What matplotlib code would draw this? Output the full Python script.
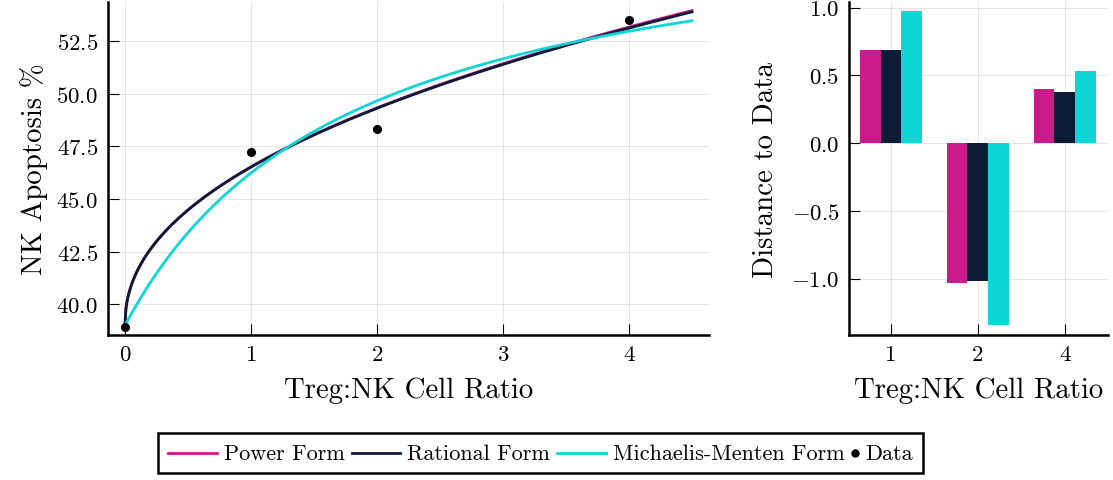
import numpy as np
import matplotlib
matplotlib.use("Agg")
import matplotlib.pyplot as plt
from matplotlib.lines import Line2D
from matplotlib.offsetbox import AnchoredOffsetbox, DrawingArea, HPacker, TextArea

plt.rcParams["font.family"] = ["cmr10", "DejaVu Serif"]
plt.rcParams["mathtext.fontset"] = "cm"
plt.rcParams["axes.formatter.use_mathtext"] = True

# measured apoptosis at each Treg:NK ratio
ratio = [0, 1, 2, 4]
apoptosis = [38.95, 47.22, 48.32, 53.50]

# fitted parameters for the three model forms
power_params = (38.98, 7.55, 0.455)            # a + b * x**c
rational_params = (39.0, 7.985, 0.01, 0.4607)  # (a + b x**p) / (1 + d x**p)
mm_params = (39.0, 20.24, 1.796)               # a + vmax * x / (km + x)

# residuals (data minus model) at the non-zero ratios
bar_ratios = ["1", "2", "4"]
power_dist = [0.69, -1.03, 0.40]
rational_dist = [0.69, -1.015, 0.38]
mm_dist = [0.975, -1.345, 0.53]

series_names = ["Power Form", "Rational Form", "Michaelis-Menten Form"]
colors = ["#CB1A8A", "#0C1C36", "#0CD6D6"]


def power_form(x, a, b, c):
    return a + b * x ** c


def rational_form(x, a, b, d, p):
    return (a + b * x ** p) / (1 + d * x ** p)


def mm_form(x, a, vmax, km):
    return a + vmax * x / (km + x)


xs = np.linspace(0, 4.5, 600)
label_size = 20.8

fig = plt.figure(figsize=(11.13, 4.81), dpi=100)
ax1 = fig.add_axes([0.097, 0.3015, 0.540, 0.692])
ax2 = fig.add_axes([0.763, 0.3015, 0.2325, 0.692])

for ax in (ax1, ax2):
    for side in ("top", "right"):
        ax.spines[side].set_visible(False)
    for side in ("left", "bottom"):
        ax.spines[side].set_linewidth(1.8)
    ax.grid(True, color="black", alpha=0.1, linewidth=0.8)
    ax.set_axisbelow(True)
    ax.tick_params(direction="in", length=8, width=0.8, labelsize=16.5, pad=7)

ax1.plot(xs, power_form(xs, *power_params), color=colors[0], lw=2)
ax1.plot(xs, rational_form(xs, *rational_params), color=colors[1], lw=2)
ax1.plot(xs, mm_form(xs, *mm_params), color=colors[2], lw=2)
ax1.plot(ratio, apoptosis, "o", color="black", ms=5.5, zorder=5)

ax1.set_xlim(-0.135, 4.635)
ax1.set_ylim(38.55, 54.35)
ax1.set_xticks([0, 1, 2, 3, 4])
ax1.set_yticks([40.0, 42.5, 45.0, 47.5, 50.0, 52.5])
ax1.set_xlabel("Treg:NK Cell Ratio", fontsize=label_size, labelpad=9)
ax1.set_ylabel("NK Apoptosis %", fontsize=label_size, labelpad=6)

pos = np.arange(len(bar_ratios)) + 0.5
width = 0.238
for k, vals in enumerate([power_dist, rational_dist, mm_dist]):
    ax2.bar(pos + (k - 1) * width, vals, width=width, color=colors[k], linewidth=0)

ax2.set_xlim(0.02, 3.0)
ax2.set_ylim(-1.415, 1.04)
ax2.set_xticks(pos)
ax2.set_xticklabels(bar_ratios)
ax2.set_yticks([-1.0, -0.5, 0.0, 0.5, 1.0])
ax2.set_xlabel("Treg:NK Cell Ratio", fontsize=label_size, labelpad=9)
ax2.set_ylabel("Distance to Data", fontsize=label_size, labelpad=9)

# horizontal legend below both panels
items = []
for name, c in zip(series_names, colors):
    da = DrawingArea(35, 12, 0, 0)
    da.add_artist(Line2D([0, 35], [6, 6], color=c, lw=2))
    items += [da, TextArea(name, textprops=dict(size=16))]
dot = DrawingArea(5, 12, 0, 0)
dot.add_artist(Line2D([2.5], [6], marker="o", color="black", ms=5, ls="none"))
items += [dot, TextArea("Data", textprops=dict(size=16))]

legend_row = HPacker(children=items, align="center", pad=0, sep=5)
legend_box = AnchoredOffsetbox(loc="center", child=legend_row, pad=0.45,
                               borderpad=0, frameon=True, prop=dict(size=16),
                               bbox_to_anchor=(0.4856, 0.056),
                               bbox_transform=fig.transFigure)
legend_box.patch.set_edgecolor("black")
legend_box.patch.set_linewidth(1.8)
fig.add_artist(legend_box)

fig.savefig("out.png", dpi=100)
